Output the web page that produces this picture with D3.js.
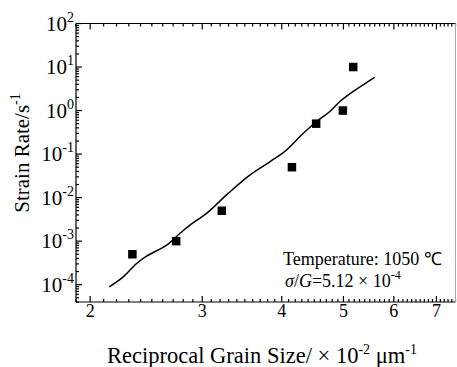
<!DOCTYPE html>
<html><head><meta charset="utf-8">
<script src="https://cdn.jsdelivr.net/npm/d3@7"></script>
<style>
body{margin:0;background:#fff}
svg{display:block}
text{font-family:"Liberation Serif","Times New Roman",serif;fill:#000}
</style>
</head><body>
<svg id="chart" width="457" height="367"></svg>
<script>
// Measured strain rates vs reciprocal grain size
const grainSize = [2.33, 2.73, 3.22, 4.15, 4.53, 4.99, 5.18];
const strainRate = [5e-4, 1e-3, 5e-3, 0.05, 0.5, 1, 10];

// Model prediction curve
const fitGrainSize = [2.143, 2.254, 2.366, 2.453, 2.637, 2.766, 2.869, 3.047, 3.295, 3.563, 3.831, 4.068, 4.296, 4.533, 4.756, 4.932, 5.174, 5.597];
const fitStrainRate = [8.9e-5, 1.51e-4, 3.07e-4, 4.52e-4, 8.09e-4, 1.5e-3, 2.33e-3, 4.33e-3, 0.0125, 0.0329, 0.0665, 0.1236, 0.2735, 0.553, 0.938, 1.59, 2.71, 5.8];

const xTickValues = [2, 3, 4, 5, 6, 7];
const yTickExponents = [-4, -3, -2, -1, 0, 1, 2];

const svg = d3.select("#chart");
const plotLeft = 76, plotRight = 455.5, plotTop = 23.5, plotBottom = 302;

const x = d3.scaleLog().domain([1.9, 7.5]).range([plotLeft, plotRight]);
const y = d3.scaleLog().domain([4e-5, 100]).range([plotBottom, plotTop]);

// minor tick positions
const xMinor = d3.range(19, 76).map(v => v / 10).filter(v => Math.abs(v - Math.round(v)) > 1e-9);
const yMinor = [];
for (let k = -5; k <= 1; k++) for (let m = 2; m <= 9; m++) {
  const v = m * Math.pow(10, k);
  if (v >= 4e-5 && v <= 100) yMinor.push(v);
}

const axes = svg.append("g").attr("stroke", "#000").attr("stroke-width", 1.2);

// bottom axis (ticks inward)
axes.append("line").attr("x1", plotLeft).attr("x2", plotRight).attr("y1", plotBottom).attr("y2", plotBottom);
axes.selectAll(".xb").data(xTickValues).join("line")
  .attr("x1", d => x(d)).attr("x2", d => x(d)).attr("y1", plotBottom).attr("y2", plotBottom - 6);
axes.selectAll(".xbm").data(xMinor).join("line")
  .attr("x1", d => x(d)).attr("x2", d => x(d)).attr("y1", plotBottom).attr("y2", plotBottom - 3);

// top axis (mirrored ticks)
axes.append("line").attr("x1", plotLeft).attr("x2", plotRight).attr("y1", plotTop).attr("y2", plotTop);
axes.selectAll(".xt").data(xTickValues).join("line")
  .attr("x1", d => x(d)).attr("x2", d => x(d)).attr("y1", plotTop).attr("y2", plotTop + 6);
axes.selectAll(".xtm").data(xMinor).join("line")
  .attr("x1", d => x(d)).attr("x2", d => x(d)).attr("y1", plotTop).attr("y2", plotTop + 3);

// left axis
axes.append("line").attr("x1", plotLeft).attr("x2", plotLeft).attr("y1", plotTop).attr("y2", plotBottom);
axes.selectAll(".yl").data(yTickExponents).join("line")
  .attr("x1", plotLeft).attr("x2", plotLeft + 6).attr("y1", d => y(Math.pow(10, d))).attr("y2", d => y(Math.pow(10, d)));
axes.selectAll(".ylm").data(yMinor).join("line")
  .attr("x1", plotLeft).attr("x2", plotLeft + 3).attr("y1", d => y(d)).attr("y2", d => y(d));

// right border
svg.append("line").attr("x1", plotRight).attr("x2", plotRight).attr("y1", plotTop).attr("y2", plotBottom)
  .attr("stroke", "#aaa").attr("stroke-width", 1);

// x tick labels
svg.selectAll(".xlab").data(xTickValues).join("text")
  .attr("x", d => x(d)).attr("y", 317).attr("text-anchor", "middle")
  .attr("font-size", 18).text(d => d);

// y tick labels: 10 with exponent
const yl = svg.selectAll(".ylab").data(yTickExponents).join("text")
  .attr("x", 74).attr("y", d => y(Math.pow(10, d)) + 7).attr("text-anchor", "end")
  .attr("font-size", 21);
yl.append("tspan").text("10");
yl.append("tspan").attr("font-size", 14).attr("dy", -9).text(d => d);

// axis titles
const yt = svg.append("text").attr("transform", "translate(29,153) rotate(-90)")
  .attr("text-anchor", "middle").attr("font-size", 21);
yt.append("tspan").text("Strain Rate/s");
yt.append("tspan").attr("font-size", 14).attr("dy", -9).text("-1");

const xt = svg.append("text").attr("x", 262).attr("y", 363).attr("text-anchor", "middle").attr("font-size", 22.5);
xt.append("tspan").text("Reciprocal Grain Size/ × 10");
xt.append("tspan").attr("font-size", 14).attr("dy", -9).text("-2");
xt.append("tspan").attr("dy", 9).text(" μm");
xt.append("tspan").attr("font-size", 14).attr("dy", -9).text("-1");

// fitted curve
const line = d3.line().x((d, i) => x(fitGrainSize[i])).y((d, i) => y(fitStrainRate[i]))
  .curve(d3.curveCatmullRom.alpha(0.5));
svg.append("path").datum(fitGrainSize).attr("d", line)
  .attr("fill", "none").attr("stroke", "#000").attr("stroke-width", 1.5);

// measured points
const s = 8.5;
svg.selectAll(".pt").data(grainSize).join("rect")
  .attr("x", (d) => x(d) - s / 2).attr("y", (d, i) => y(strainRate[i]) - s / 2)
  .attr("width", s).attr("height", s).attr("fill", "#000");

// annotation
svg.append("text").attr("x", 283).attr("y", 265).attr("font-size", 18).text("Temperature: 1050 ℃");
const an = svg.append("text").attr("x", 285).attr("y", 287).attr("font-size", 18);
an.append("tspan").attr("font-style", "italic").text("σ");
an.append("tspan").text("/");
an.append("tspan").attr("font-style", "italic").text("G");
an.append("tspan").text("=5.12 × 10");
an.append("tspan").attr("font-size", 12).attr("dy", -8).text("-4");
</script>
</body></html>
